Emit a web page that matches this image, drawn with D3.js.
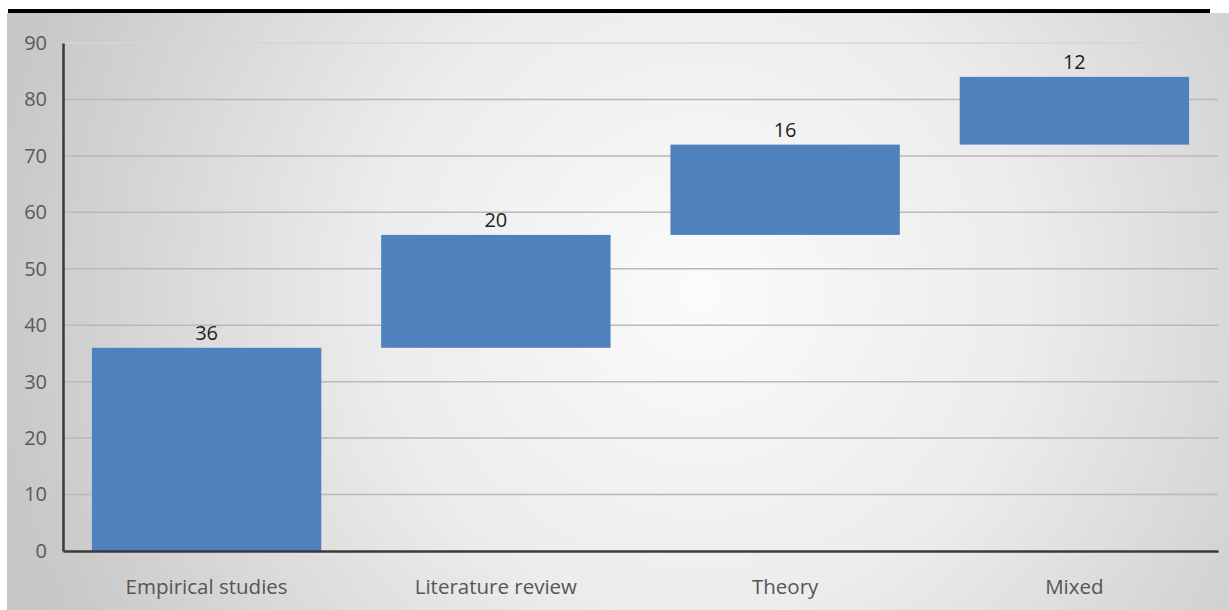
<!DOCTYPE html>
<html>
<head>
<meta charset="utf-8">
<script src="https://cdn.jsdelivr.net/npm/d3@7"></script>
<style>
  html, body { margin: 0; padding: 0; background: #fff; }
  svg { display: block; }
  text { font-family: "Open Sans", "Noto Sans", sans-serif; }
</style>
</head>
<body>
<svg id="chart" width="1229" height="610"></svg>
<script>
// Waterfall: each category's count stacked on the running total
const categories = ["Empirical studies", "Literature review", "Theory", "Mixed"];
const counts = [36, 20, 16, 12];
const yTicks = [0, 10, 20, 30, 40, 50, 60, 70, 80, 90];

const W = 1229, H = 610;
const svg = d3.select("#chart");

// panel background with a soft radial sheen
const defs = svg.append("defs");
const grad = defs.append("radialGradient")
  .attr("id", "bg")
  .attr("gradientUnits", "userSpaceOnUse")
  .attr("cx", 700).attr("cy", 290).attr("r", 730);
grad.append("stop").attr("offset", 0).attr("stop-color", "#fbfbfb");
grad.append("stop").attr("offset", 0.45).attr("stop-color", "#ececec");
grad.append("stop").attr("offset", 1).attr("stop-color", "#c6c6c6");

svg.append("rect").attr("x", 7).attr("y", 13).attr("width", W - 7).attr("height", H - 13)
  .attr("fill", "url(#bg)");

// heavy rule above the panel
svg.append("rect").attr("x", 8).attr("y", 9).attr("width", 1202).attr("height", 4).attr("fill", "#000");

const margin = { left: 63, right: 1218, top: 43, bottom: 551 };

const x = d3.scaleBand().domain(categories).range([margin.left, margin.right]).paddingInner(0.207).paddingOuter(0.1);
const y = d3.scaleLinear().domain([0, 90]).range([margin.bottom, margin.top]);

// running totals
let acc = 0;
const bars = categories.map((c, i) => {
  const start = acc;
  acc += counts[i];
  return { cat: c, value: counts[i], start, end: acc };
});

// gridlines
svg.append("g").selectAll("line").data(yTicks.filter(d => d > 0)).join("line")
  .attr("x1", margin.left).attr("x2", margin.right)
  .attr("y1", d => y(d)).attr("y2", d => y(d))
  .attr("stroke", d => d === 90 ? "#d6d6d6" : "#b9b9b9")
  .attr("stroke-width", 1.5);

// bars
svg.append("g").selectAll("rect").data(bars).join("rect")
  .attr("x", d => x(d.cat))
  .attr("width", x.bandwidth())
  .attr("y", d => y(d.end))
  .attr("height", d => y(d.start) - y(d.end))
  .attr("fill", "#4f81bd");

// value labels
svg.append("g").selectAll("text").data(bars).join("text")
  .attr("x", d => x(d.cat) + x.bandwidth() / 2)
  .attr("y", d => y(d.end) - 8)
  .attr("text-anchor", "middle")
  .style("font-size", "20px")
  .attr("fill", "#1e1e1e")
  .text(d => d.value);

// y axis
const yAxis = svg.append("g").attr("transform", `translate(${margin.left},0)`)
  .call(d3.axisLeft(y).tickValues(yTicks).tickSize(0).tickPadding(16));
yAxis.select(".domain").attr("stroke", "#3a3a3a").attr("stroke-width", 2.5);
yAxis.selectAll("text").style("font-size", "20px").attr("fill", "#5a5a5a")
  .attr("font-family", "\"Open Sans\", \"Noto Sans\", sans-serif");

// x axis
const xAxis = svg.append("g").attr("transform", `translate(0,${margin.bottom})`)
  .call(d3.axisBottom(x).tickSize(0).tickPadding(28));
xAxis.select(".domain").attr("stroke", "#3a3a3a").attr("stroke-width", 2.5);
xAxis.selectAll("text").style("font-size", "20.5px").attr("fill", "#555")
  .attr("font-family", "\"Open Sans\", \"Noto Sans\", sans-serif");
</script>
</body>
</html>
